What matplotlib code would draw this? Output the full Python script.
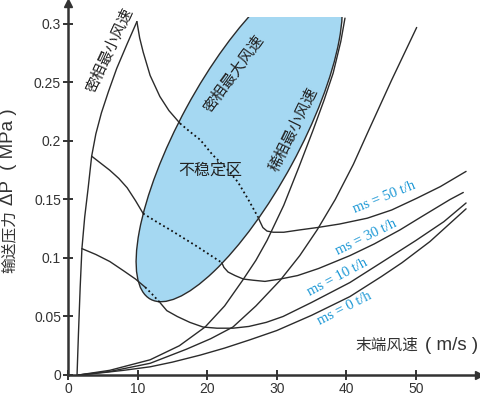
import matplotlib
matplotlib.use('Agg')
from matplotlib import pyplot as plt
from matplotlib.patches import Ellipse, Rectangle
from matplotlib.transforms import Affine2D

# Conveying pressure vs end air velocity (phase diagram)
# velocity in m/s, pressure in MPa

# dense phase minimum velocity boundary
boundary_v = [1.3, 1.5, 1.75, 2.0, 2.4, 2.9, 3.4, 4.0, 4.8, 5.8, 7.0, 8.5, 9.9]
boundary_p = [0.0, 0.035, 0.075, 0.108, 0.135, 0.160, 0.187, 0.206, 0.224, 0.242, 0.262, 0.283, 0.302]

# ms = 50 t/h : dense part, unstable part (dotted), lean part
ms50_dense_v = [9.9, 10.3, 10.8, 11.8, 13.2, 14.5, 16.1]
ms50_dense_p = [0.302, 0.288, 0.276, 0.256, 0.238, 0.226, 0.215]
ms50_unst_v = [16.1, 17.5, 19.0, 20.8, 22.7, 24.4, 25.9, 27.3]
ms50_unst_p = [0.215, 0.208, 0.201, 0.188, 0.177, 0.165, 0.150, 0.135]
ms50_lean_v = [27.3, 27.6, 28.0, 28.6, 29.5, 31.0, 33.3, 35.8, 39.0, 43.0, 46.5, 50.1, 53.5, 57.2]
ms50_lean_p = [0.135, 0.131, 0.126, 0.123, 0.122, 0.122, 0.124, 0.126, 0.129, 0.134, 0.141, 0.151, 0.161, 0.174]

# ms = 30 t/h
ms30_dense_v = [3.4, 4.7, 6.0, 7.3, 8.5, 9.7, 10.8]
ms30_dense_p = [0.187, 0.181, 0.175, 0.168, 0.160, 0.149, 0.138]
ms30_unst_v = [10.8, 12.7, 14.7, 16.6, 18.5, 20.3, 22.1]
ms30_unst_p = [0.138, 0.131, 0.124, 0.117, 0.110, 0.103, 0.096]
ms30_lean_v = [22.1, 22.4, 23.0, 24.0, 25.2, 26.6, 28.3, 30.5, 33.0, 36.0, 40.5, 44.0, 47.7, 51.0, 54.9, 56.8]
ms30_lean_p = [0.096, 0.092, 0.088, 0.085, 0.082, 0.081, 0.080, 0.082, 0.085, 0.091, 0.102, 0.112, 0.124, 0.136, 0.150, 0.156]

# ms = 10 t/h
ms10_dense_v = [2.0, 4.0, 6.0, 8.0, 9.7, 11.1]
ms10_dense_p = [0.108, 0.103, 0.097, 0.089, 0.082, 0.075]
ms10_unst_v = [11.1, 12.1, 13.2]
ms10_unst_p = [0.075, 0.069, 0.062]
ms10_lean_v = [13.2, 14.2, 15.7, 17.5, 19.4, 21.4, 23.7, 26.0, 28.5, 30.9, 35.0, 40.5, 45.0, 50.0, 54.0, 57.2]
ms10_lean_p = [0.062, 0.055, 0.050, 0.045, 0.041, 0.040, 0.040, 0.0415, 0.045, 0.050, 0.062, 0.079, 0.096, 0.115, 0.131, 0.147]

# ms = 0 t/h (air only)
ms0_v = [1.5, 5.0, 8.0, 11.8, 15.0, 19.0, 22.5, 26.1, 30.0, 35.0, 40.5, 45.0, 48.0, 52.0, 57.2]
ms0_p = [0.0, 0.002, 0.004, 0.007, 0.011, 0.017, 0.023, 0.030, 0.038, 0.051, 0.067, 0.084, 0.096, 0.114, 0.142]

# two unlabeled steep curves from the origin
steep1_v = [1.5, 6.0, 11.8, 16.0, 19.7, 22.5, 25.1, 27.0, 28.6, 31.0, 33.2, 35.2, 36.8, 38.1, 39.2, 39.8]
steep1_p = [0.0, 0.004, 0.013, 0.025, 0.041, 0.059, 0.081, 0.098, 0.115, 0.145, 0.178, 0.209, 0.235, 0.258, 0.285, 0.305]
steep2_v = [1.5, 6.0, 11.8, 17.0, 20.5, 23.7, 27.0, 30.5, 33.3, 35.8, 38.4, 41.0, 43.2, 46.5, 50.1]
steep2_p = [0.0, 0.003, 0.010, 0.022, 0.031, 0.041, 0.059, 0.081, 0.102, 0.124, 0.150, 0.180, 0.209, 0.252, 0.297]

# unstable region (ellipse): centre, axes in velocity units, tilt in degrees
unst_center = (24.6, 0.2043)
unst_major = 53.4
unst_minor = 17.2
unst_angle = 61.5
unst_top = 0.306

ms_labels = ['ms = 50 t/h', 'ms = 30 t/h', 'ms = 10 t/h', 'ms = 0 t/h']
ms_label_v = [45.4, 42.9, 38.7, 39.7]
ms_label_p = [0.1517, 0.1175, 0.0833, 0.0572]
ms_label_rot = [22, 26, 28, 27]

xticks = [0, 10, 20, 30, 40, 50]
yticks = [0, 0.05, 0.1, 0.15, 0.2, 0.25, 0.3]
ytick_labels = ['0', '0.05', '0.1', '0.15', '0.2', '0.25', '0.3']

dark = '#2b2b2b'
axis_col = '#333333'
blue = '#1a97d5'
fill = '#a5d8f2'
cjk = ['Noto Sans CJK SC', 'DejaVu Sans']
latin = ['Liberation Sans', 'DejaVu Sans']

fig = plt.figure(figsize=(4.8, 3.96), dpi=100)
ax = fig.add_axes([68 / 480, 21 / 396, 410.6 / 480, 372.1 / 396])
ax.set_xlim(0, 59)
ax.set_ylim(0, 0.318)

# ellipse drawn in a frame where both axes have the same pixel scale
p0 = ax.transData.transform((0, 0))
p1 = ax.transData.transform((1, 1))
k = (p1[1] - p0[1]) / (p1[0] - p0[0])
trans = Affine2D().scale(1, 1 / k) + ax.transData
ell = Ellipse((unst_center[0], unst_center[1] * k), unst_major, unst_minor, angle=unst_angle,
              transform=trans, facecolor=fill, edgecolor=dark, lw=1.0, zorder=1)
ax.add_patch(ell)
ell.set_clip_path(Rectangle((0, 0), 59, unst_top, transform=ax.transData))

solid = dict(color=dark, lw=1.0, zorder=3, solid_capstyle='round')
dotted = dict(color='#111111', lw=1.3, ls=(0, (1, 1.6)), zorder=3)

ax.plot(boundary_v, boundary_p, **solid)
for dv, dp, uv, up, lv, lp in [
        (ms50_dense_v, ms50_dense_p, ms50_unst_v, ms50_unst_p, ms50_lean_v, ms50_lean_p),
        (ms30_dense_v, ms30_dense_p, ms30_unst_v, ms30_unst_p, ms30_lean_v, ms30_lean_p),
        (ms10_dense_v, ms10_dense_p, ms10_unst_v, ms10_unst_p, ms10_lean_v, ms10_lean_p)]:
    ax.plot(dv, dp, **solid)
    ax.plot(uv, up, **dotted)
    ax.plot(lv, lp, **solid)
ax.plot(ms0_v, ms0_p, **solid)
ax.plot(steep1_v, steep1_p, **solid)
ax.plot(steep2_v, steep2_p, **solid)

# labels
for txt, v, p, r in zip(ms_labels, ms_label_v, ms_label_p, ms_label_rot):
    ax.text(v, p, txt, color=blue, fontsize=10.5, family='Liberation Serif',
            rotation=r, ha='center', va='center', zorder=5)
ax.text(6.0, 0.278, '密相最小风速', family=cjk, fontsize=11, rotation=65,
        ha='center', va='center', color='#222222', zorder=5)
ax.text(23.85, 0.2577, '密相最大风速', family=cjk, fontsize=11, rotation=54,
        ha='center', va='center', color='#222222', zorder=5)
ax.text(32.47, 0.210, '稀相最小风速', family=cjk, fontsize=11, rotation=64,
        ha='center', va='center', color='#222222', zorder=5)
ax.text(20.47, 0.1744, '不稳定区', family=cjk, fontsize=11.5,
        ha='center', va='center', color='#222222', zorder=5)

# axis titles: CJK part and latin part set separately (latin is larger in the original)
fig.text(386.5 / 480, 1 - 345 / 396, '末端风速', family=cjk, fontsize=11.3,
         ha='center', va='center', color=axis_col)
fig.text(478 / 480, 1 - 345 / 396, '( m/s )', family=latin, fontsize=13.5,
         ha='right', va='center', color=axis_col)
fig.text(9 / 480, 1 - 241.5 / 396, '输送压力', family=cjk, fontsize=11.3,
         rotation=90, ha='center', va='center', color=axis_col)
fig.text(9 / 480, 1 - 157 / 396, 'ΔP  ( MPa )', family=latin, fontsize=13.5,
         rotation=90, ha='center', va='center', color=axis_col)

# axes with arrows
for s in ['top', 'right']:
    ax.spines[s].set_visible(False)
for s in ['left', 'bottom']:
    ax.spines[s].set_color(axis_col)
    ax.spines[s].set_linewidth(1.8)
ax.plot(1, 0, '>', color=axis_col, ms=6, transform=ax.get_yaxis_transform(), clip_on=False)
ax.plot(0, 1, '^', color=axis_col, ms=6, transform=ax.get_xaxis_transform(), clip_on=False)

ax.set_xticks(xticks)
ax.set_xticklabels([str(t) for t in xticks])
ax.set_yticks(yticks)
ax.set_yticklabels(ytick_labels)
ax.tick_params(direction='inout', length=7, width=1.4, color=axis_col,
               labelsize=10, labelcolor=axis_col, pad=1.5)
for lab in ax.get_xticklabels() + ax.get_yticklabels():
    lab.set_family('Liberation Sans')

fig.savefig('out.png', dpi=100)
